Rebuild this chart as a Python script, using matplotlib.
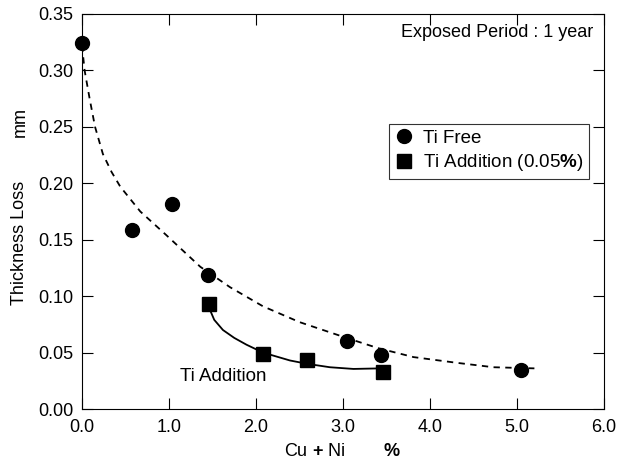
import numpy as np
import matplotlib
matplotlib.use("Agg")
import matplotlib.pyplot as plt

plt.rcParams['font.family'] = ['Liberation Sans', 'DejaVu Sans']
plt.rcParams['mathtext.fontset'] = 'custom'
plt.rcParams['mathtext.rm'] = 'Liberation Sans'
plt.rcParams['mathtext.bf'] = 'Liberation Sans:bold'

# data
free_x = [0.0, 0.57, 1.04, 1.45, 3.05, 3.44, 5.05]
free_y = [0.324, 0.159, 0.182, 0.119, 0.060, 0.048, 0.035]

ti_x = [1.46, 2.08, 2.59, 3.46]
ti_y = [0.093, 0.049, 0.043, 0.033]

# trend lines as drawn on the chart
free_fit_x = [0.0, 0.03, 0.09, 0.15, 0.24, 0.34, 0.44, 0.67, 0.97, 1.36, 1.7, 2.08, 2.5, 3.04, 3.4, 3.81, 4.3, 4.73, 5.2]
free_fit_y = [0.322, 0.300, 0.274, 0.250, 0.226, 0.210, 0.197, 0.175, 0.154, 0.126, 0.108, 0.091, 0.077, 0.063, 0.054, 0.046, 0.041, 0.037, 0.036]

ti_fit_x = [1.47, 1.52, 1.62, 1.75, 1.89, 2.08, 2.39, 2.59, 2.85, 3.12, 3.43]
ti_fit_y = [0.088, 0.079, 0.070, 0.063, 0.057, 0.050, 0.043, 0.040, 0.037, 0.0355, 0.036]

fs = 13

fig = plt.figure(figsize=(6.18, 4.62), dpi=100)
ax = fig.add_axes([82/618, 1-409/462, 522/618, 395/462])

ax.plot(free_fit_x, free_fit_y, color='black', lw=1.3, ls=(0, (3.5, 3)))
ax.plot(ti_fit_x, ti_fit_y, color='black', lw=1.3)

ax.plot(free_x, free_y, 'o', color='black', ms=10, label='Ti Free', clip_on=False)
ax.plot(ti_x, ti_y, 's', color='black', ms=9.5, label=r'Ti Addition (0.05$\mathbf{\%}$)', clip_on=False)

ax.set_xlim(0, 6)
ax.set_ylim(0, 0.35)
ax.set_xticks(np.arange(0, 6.1, 1.0))
ax.set_yticks(np.arange(0, 0.351, 0.05))
ax.set_xticklabels(['%.1f' % v for v in np.arange(0, 6.1, 1.0)])
ax.set_yticklabels(['%.2f' % v for v in np.arange(0, 0.351, 0.05)])
ax.tick_params(direction='in', length=8, width=0.8, top=True, right=True, labelsize=fs)
ax.tick_params(axis='x', pad=7)
ax.tick_params(axis='y', pad=6)
for s in ax.spines.values():
    s.set_linewidth(0.8)

leg = ax.legend(loc='lower right', bbox_to_anchor=(0.971, 0.582), borderaxespad=0,
                fontsize=13.5, frameon=True, fancybox=False, handletextpad=0.5,
                handlelength=1.0, borderpad=0.3, labelspacing=0.3)
leg.get_frame().set_edgecolor('black')
leg.get_frame().set_linewidth(0.8)

ax.text(0.979, 0.952, 'Exposed Period : 1 year', transform=ax.transAxes,
        ha='right', va='center', fontsize=fs)
ax.text(1.13, 0.029, 'Ti Addition', ha='left', va='center', fontsize=13.5)

fig.text(20/618, 1-243/462, 'Thickness Loss', rotation=90, ha='center', va='center', fontsize=fs)
fig.text(20/618, 1-122/462, 'mm', rotation=90, ha='center', va='center', fontsize=fs)
fig.text(315/618, 1-452/462, r'Cu $\mathbf{+}$ Ni', ha='center', va='center', fontsize=fs)
fig.text(392/618, 1-452/462, '%', ha='center', va='center', fontsize=fs, fontweight='bold')

fig.savefig('out.png', dpi=100)
